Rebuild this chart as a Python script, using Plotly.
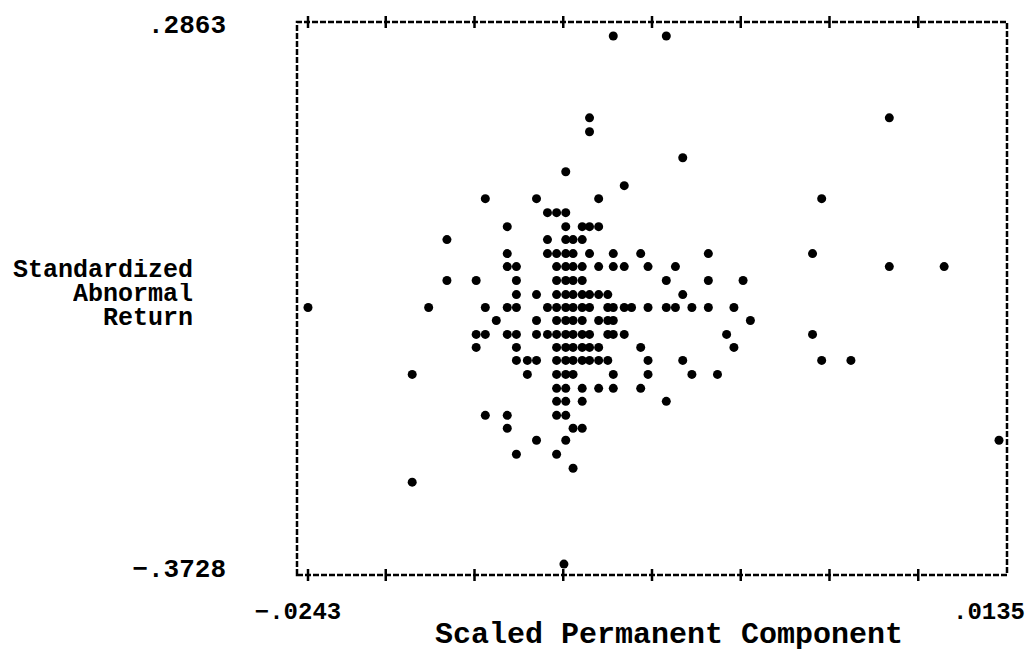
import plotly.graph_objects as go

# Axis end values printed on the chart
x_lo, x_hi = -0.0243, 0.0135
y_lo, y_hi = -0.3728, 0.2863
x_tick_text = ["\u2212.0243", ".0135"]
y_tick_text = ["\u2212.3728", ".2863"]

# Observations grouped by printed row (y value) with the x values in that row
row_y = [0.2718, 0.1726, 0.1557, 0.1242, 0.1073, 0.0904, 0.0747, 0.0577,
         0.0408, 0.0251, 0.0081, -0.0076, -0.0245, -0.0415, -0.0572,
         -0.0729, -0.0898, -0.1055, -0.1213, -0.1382, -0.1551, -0.1709,
         -0.1878, -0.2035, -0.2180, -0.2350, -0.2519, -0.2688, -0.3680]
row_x = [
    [-0.0076, -0.0047],
    [-0.0089, 0.0075],
    [-0.0089],
    [-0.0038],
    [-0.0102],
    [-0.0070],
    [-0.0146, -0.0118, -0.0084, 0.0038],
    [-0.0112, -0.0107, -0.0102],
    [-0.0134, -0.0102, -0.0093, -0.0089, -0.0084],
    [-0.0167, -0.0112, -0.0102, -0.0098, -0.0093],
    [-0.0134, -0.0112, -0.0107, -0.0102, -0.0098, -0.0089, -0.0076, -0.0061,
     -0.0024, 0.0033],
    [-0.0134, -0.0129, -0.0107, -0.0102, -0.0098, -0.0093, -0.0084, -0.0076,
     -0.0070, -0.0057, -0.0042, 0.0075, 0.0105],
    [-0.0167, -0.0151, -0.0129, -0.0107, -0.0102, -0.0098, -0.0093, -0.0047,
     -0.0024, -0.0005],
    [-0.0129, -0.0118, -0.0107, -0.0102, -0.0098, -0.0093, -0.0089, -0.0084,
     -0.0079, -0.0038],
    [-0.0243, -0.0177, -0.0146, -0.0134, -0.0129, -0.0112, -0.0107, -0.0102,
     -0.0098, -0.0093, -0.0089, -0.0079, -0.0076, -0.0070, -0.0066, -0.0057,
     -0.0047, -0.0042, -0.0033, -0.0024, -0.0010],
    [-0.0140, -0.0118, -0.0107, -0.0102, -0.0098, -0.0093, -0.0084, -0.0079,
     -0.0076, -0.0001],
    [-0.0151, -0.0146, -0.0134, -0.0129, -0.0118, -0.0112, -0.0107, -0.0102,
     -0.0098, -0.0093, -0.0089, -0.0079, -0.0076, -0.0070, -0.0014, 0.0033],
    [-0.0151, -0.0129, -0.0107, -0.0102, -0.0098, -0.0093, -0.0089, -0.0084,
     -0.0061, -0.0010],
    [-0.0129, -0.0123, -0.0118, -0.0107, -0.0102, -0.0098, -0.0093, -0.0089,
     -0.0084, -0.0079, -0.0057, -0.0038, 0.0038, 0.0054],
    [-0.0186, -0.0123, -0.0107, -0.0102, -0.0098, -0.0076, -0.0057, -0.0033,
     -0.0019],
    [-0.0107, -0.0102, -0.0093, -0.0084, -0.0076, -0.0061],
    [-0.0107, -0.0102, -0.0093, -0.0047],
    [-0.0146, -0.0134, -0.0107, -0.0102],
    [-0.0134, -0.0098, -0.0093],
    [-0.0118, -0.0102, 0.0135],
    [-0.0129, -0.0107],
    [-0.0098],
    [-0.0186],
    [-0.0103],
]

xs, ys = [], []
for yv, xr in zip(row_y, row_x):
    for xv in xr:
        xs.append(xv)
        ys.append(yv)

W, H = 1026, 669
ML, MR, MT, MB = 297, 19, 22, 94
plot_w = W - ML - MR
plot_h = H - MT - MB

# padding between the frame and the labelled end values
xspan = x_hi - x_lo
x_range = [x_lo - xspan * 11 / 691, x_hi + xspan * 8 / 691]
yspan = y_hi - y_lo
y_range = [y_lo - yspan * 7 / 546, y_hi + yspan * 2 / 546]

FONT = "Liberation Mono"
INK = "black"

fig = go.Figure(go.Scatter(
    x=xs, y=ys, mode="markers",
    marker=dict(symbol="circle", size=9, color=INK, line=dict(width=0)),
    hoverinfo="x+y", showlegend=False,
))

shapes = [dict(type="rect", xref="paper", yref="paper", x0=0, x1=1, y0=0, y1=1,
               line=dict(color=INK, width=2.5, dash="6px,2px"))]
n_seg = 8
tick_positions = [x_lo] + [x_range[0] + k * (x_range[1] - x_range[0]) / n_seg
                           for k in range(1, n_seg)]
for xv in tick_positions:
    for anchor in (0, 1):
        shapes.append(dict(type="line", xref="x", yref="paper",
                           ysizemode="pixel", yanchor=anchor,
                           x0=xv, x1=xv, y0=-6, y1=6,
                           line=dict(color=INK, width=2.5)))

title_lines = ["Standardized", "Abnormal", "Return"]
title_px_y = [270, 294, 318]
annotations = []
for txt, py in zip(title_lines, title_px_y):
    annotations.append(dict(
        text=txt, xref="paper", yref="paper",
        x=(195 - ML) / plot_w, y=(MT + plot_h - py) / plot_h,
        xanchor="right", yanchor="middle", showarrow=False,
        height=23, valign="middle",
        font=dict(family=FONT, size=25, color=INK, weight="bold")))
annotations.append(dict(
    text="Scaled Permanent Component", xref="paper", yref="paper",
    x=(669 - ML) / plot_w, y=(MT + plot_h - 635) / plot_h,
    xanchor="center", yanchor="middle", showarrow=False,
    font=dict(family=FONT, size=30, color=INK, weight="bold")))

fig.update_layout(
    width=W, height=H,
    margin=dict(l=ML, r=MR, t=MT, b=MB, pad=0, autoexpand=False),
    paper_bgcolor="white", plot_bgcolor="white",
    shapes=shapes, annotations=annotations,
    xaxis=dict(range=x_range, showgrid=False, zeroline=False, showline=False,
               automargin=False,
               tickvals=[x_lo, x_hi], ticktext=x_tick_text, ticks="",
               ticklabelstandoff=19, ticklabelshift=-10,
               tickfont=dict(family=FONT, size=24, color=INK, weight="bold")),
    yaxis=dict(range=y_range, showgrid=False, zeroline=False, showline=False,
               automargin=False,
               tickvals=[y_lo, y_hi], ticktext=y_tick_text, ticks="",
               ticklabelstandoff=70,
               tickfont=dict(family=FONT, size=26, color=INK, weight="bold")),
)

fig.write_html("out.html")
